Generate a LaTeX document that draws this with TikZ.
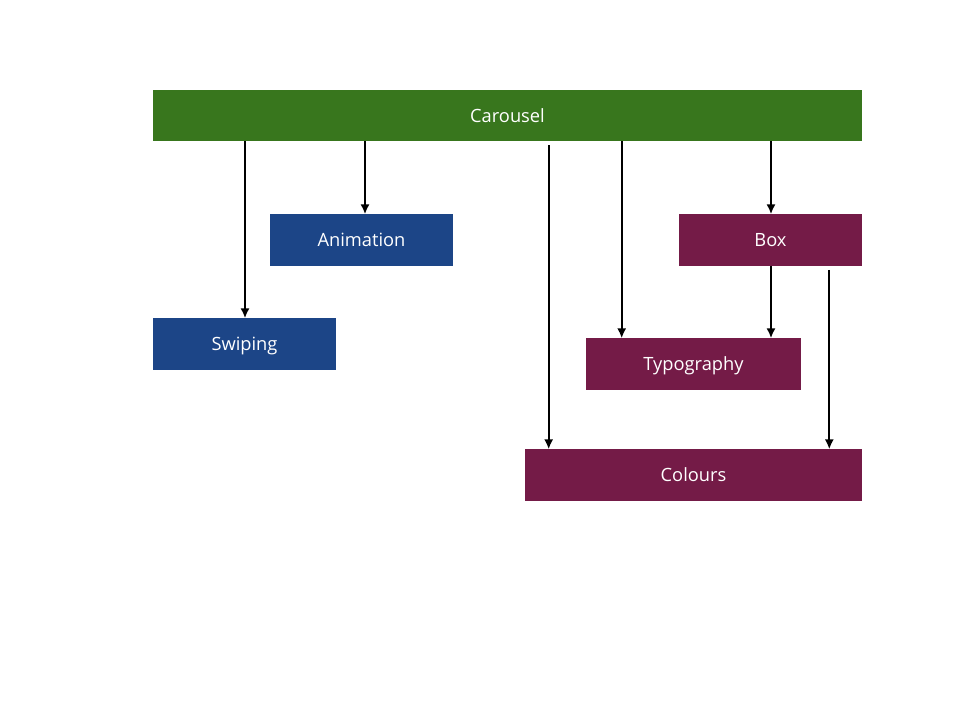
\documentclass[tikz,border=0pt]{standalone}
\usepackage{fontspec}
\setmainfont{Open Sans}
\usepackage{xcolor}
\usetikzlibrary{shapes,arrows,arrows.meta,positioning}
\definecolor{topgreen}{RGB}{56,118,29}
\definecolor{leftblue}{RGB}{28,69,135}
\definecolor{rightplum}{RGB}{116,27,71}
\tikzstyle{line} = [draw, line width=1.4pt, -{Latex[length=7pt,width=6.5pt]}]

\begin{document}
\begin{tikzpicture}[x=0.025cm, y=-0.025cm, every node/.style={font=\fontsize{13}{15}\selectfont, text=white},
    module/.style={rectangle, minimum height=1.275cm, inner sep=0pt, text centered, text depth=0pt}]
        \useasboundingbox (0,0) rectangle (960,720);
        \node[module, fill=topgreen, minimum width=17.725cm] (Carousel) at (507.5,115.5) {Carousel};
        \node[module, fill=leftblue, minimum width=4.575cm] (Animation) at (361.5,240) {Animation};
        \node[module, fill=leftblue, minimum width=4.575cm] (Swiping) at (244.5,344) {Swiping};
        \node[module, fill=rightplum, minimum width=4.575cm] (Box) at (770.5,240) {Box};
        \node[module, fill=rightplum, minimum width=5.375cm] (Typography) at (693.5,364) {Typography};
        \node[module, fill=rightplum, minimum width=8.425cm] (Colours) at (693.5,475) {Colours};

        \path [line] ([xshift=0.0125cm]Carousel.south -| Swiping.north) -- ([xshift=0.0125cm]Swiping.north);
        \path [line] ([xshift=0.0875cm]Carousel.south -| Animation.north) -- ([xshift=0.0875cm]Animation.north);
        \path [line] ([xshift=0.6cm, yshift=-0.1cm]Carousel.south -| Colours.north west) -- ([xshift=0.6cm]Colours.north west);
        \path [line] ([xshift=0.9cm]Carousel.south -| Typography.north west) -- ([xshift=0.9cm]Typography.north west);
        \path [line] ([xshift=0.0125cm]Carousel.south -| Box.north) -- ([xshift=0.0125cm]Box.north);
        \path [line] ([xshift=0.0125cm]Box.south) -- ([xshift=0.0125cm]Box.south |- Typography.north);
        \path [line] ([xshift=-0.825cm, yshift=-0.1cm]Box.south east) -- ([xshift=-0.825cm]Box.south east |- Colours.north);
    \end{tikzpicture}
\end{document}
